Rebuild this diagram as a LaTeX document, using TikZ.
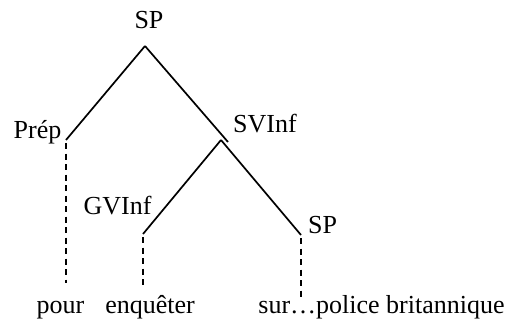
\documentclass[tikz,border=0pt]{standalone}
\usepackage{fontspec}
\setmainfont{Liberation Serif}
\begin{document}
\begin{tikzpicture}[x=1pt,y=-1pt,
  lbl/.style={inner sep=0pt,anchor=base,font=\fontsize{26}{30}\selectfont},
  branch/.style={line width=1.7pt},
  trace/.style={line width=1.7pt,dash pattern=on 6pt off 4.5pt}]
\useasboundingbox (0,0) rectangle (511,325);
% labels
\node[lbl] (sptop) at (149,28) {SP};
\node[lbl] (prep) at (37.5,138) {Prép};
\node[lbl] (svinf) at (265,132) {SVInf};
\node[lbl] (gvinf) at (117.5,214) {GVInf};
\node[lbl] (splow) at (322.5,233) {SP};
\node[lbl] (pour) at (60.5,313) {pour};
\node[lbl] (enq) at (150,313) {enquêter};
\node[lbl] (sur) at (381.5,313) {sur…police britannique};
% branch points
\coordinate (a) at (145,46);
\coordinate (b) at (66,140);
\coordinate (c) at (228,142);
\coordinate (d) at (221,140);
\coordinate (e) at (143,234);
\coordinate (f) at (301,235);
\coordinate (b2) at (66,283);
\coordinate (e2) at (143,286);
\coordinate (f2) at (301,298);
% connectors
\draw[branch] (a) -- (b);
\draw[branch] (a) -- (c);
\draw[branch] (d) -- (e);
\draw[branch] (d) -- (f);
\draw[trace] (b) ++(0,3) coordinate (b1) (b1) -- (b2);
\draw[trace] (e) ++(0,3) coordinate (e1) (e1) -- (e2);
\draw[trace] (f) ++(0,3) coordinate (f1) (f1) -- (f2);
\end{tikzpicture}
\end{document}
